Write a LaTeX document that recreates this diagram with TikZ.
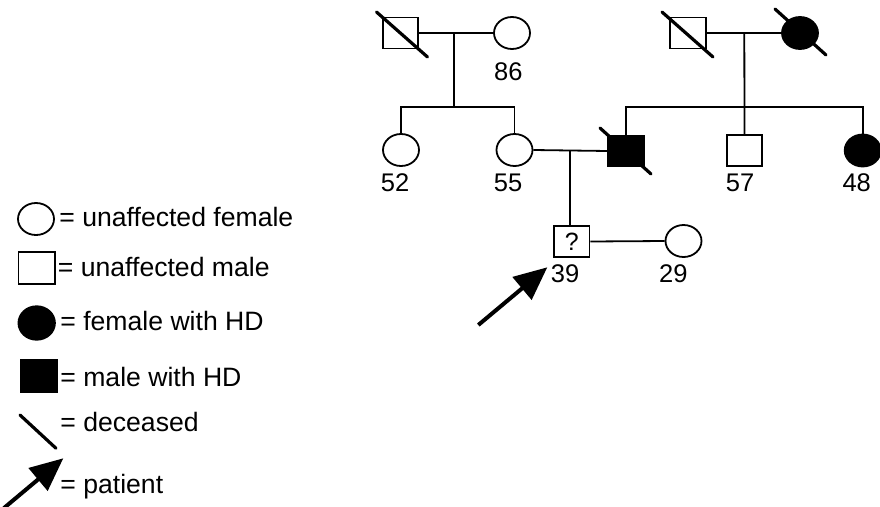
\documentclass[tikz,border=0pt]{standalone}
\usepackage{fontspec}
\setmainfont{Liberation Sans}
\usetikzlibrary{shapes.geometric,arrows.meta,calc}
\begin{document}
\begin{tikzpicture}[x=1pt,y=-1pt,
  line width=1.8pt,
  fem/.style={ellipse,draw,inner sep=0,minimum width=36pt,minimum height=32pt},
  mal/.style={rectangle,draw,inner sep=0,minimum width=35.5pt,minimum height=31pt},
  aff/.style={fill=black},
  lbl/.style={anchor=base,inner sep=0,font=\fontsize{25.5}{30}\selectfont},
  leg/.style={anchor=base west,inner sep=0,font=\fontsize{26.6}{31}\selectfont},
  dead/.style={line width=3.2pt,line cap=round},
  parr/.style={line width=4pt,-{Triangle[length=33pt,width=29pt]}}
]
\useasboundingbox (0,0) rectangle (880,506);

% pedigree members
\node[mal] (gf1) at (400.5,33) {};
\node[fem] (gm1) at (512,33) {};
\node[mal] (gf2) at (688,33) {};
\node[fem,aff] (gm2) at (800,33) {};
\node[fem] (a52) at (401,150) {};
\node[fem] (m55) at (514.5,150) {};
\node[mal,aff] (f) at (626,151) {};
\node[mal] (u57) at (744.5,150.5) {};
\node[fem,aff] (a48) at (862.7,150.5) {};
\node[mal,font=\fontsize{25}{30}\selectfont] (p) at (571.7,241.5) {?};
\node[fem] (w29) at (683.5,241) {};

% left family
\coordinate (j1) at (454.3,33);
\coordinate (s1) at (454.3,107);
\draw (gf1.east) -- (gm1.west);
\draw (j1) -- (s1);
\draw (a52.north) -- (a52.north |- s1) -- (m55.north |- s1) -- (m55.north);

% right family
\coordinate (j2) at (744.3,33);
\coordinate (s2) at (744.3,107);
\draw (gf2.east) -- (gm2.west);
\draw (j2) -- (u57.north);
\draw (f.north) -- (f.north |- s2) -- (a48.north |- s2) -- (a48.north);

% parents of patient
\draw (m55.east) -- (f.west);
\coordinate (j3) at (570,150.5);
\draw (j3) -- (j3 |- p.north);
\draw (p.east) -- (w29.west);

% deceased marks
\draw[dead] ($(gf1)+(-24,-21)$) -- ($(gf1)+(27,24)$);
\draw[dead] ($(gf2)+(-26,-21)$) -- ($(gf2)+(25,24)$);
\draw[dead] ($(gm2)+(-25,-24)$) -- ($(gm2)+(26,22)$);
\draw[dead] ($(f)+(-26,-23)$) -- ($(f)+(25,23)$);

% ages
\node[lbl] (l86) at (508.3,80.7) {86};
\node[lbl] (l52) at (395,191.7) {52};
\node[lbl] (l55) at (508,191.7) {55};
\node[lbl] (l57) at (740,191.7) {57};
\node[lbl] (l48) at (856.7,191.7) {48};
\node[lbl] (l39) at (565,282.3) {39};
\node[lbl] (l29) at (673.3,282.3) {29};

% patient arrow
\coordinate (ptail) at (478.3,325);
\coordinate (ptip) at (547.3,267.3);
\draw[parr] (ptail) -- (ptip);

% legend
\node[fem,minimum width=36pt,minimum height=32pt] (lf) at (36,219) {};
\node[mal,minimum width=36.5pt,minimum height=32.5pt] (lm) at (36.7,268) {};
\node[fem,aff,minimum width=36.5pt,minimum height=33.5pt] (lfa) at (36.7,323) {};
\node[mal,aff,minimum width=37pt,minimum height=32.5pt] (lma) at (39,376) {};
\coordinate (ld1) at (20,415);
\coordinate (ld2) at (56,448.3);
\draw[dead] (ld1) -- (ld2);
\coordinate (la1) at (4,508);
\coordinate (la2) at (63.3,458.3);
\draw[parr] (la1) -- (la2);

\node[leg] (t1) at (58.5,226.7) {= unaffected female};
\node[leg] (t2) at (57,276) {= unaffected male};
\node[leg] (t3) at (59.5,330) {= female with HD};
\node[leg] (t4) at (59.5,386.7) {= male with HD};
\node[leg] (t5) at (59.5,431.7) {= deceased};
\node[leg] (t6) at (59.5,493.3) {= patient};
\end{tikzpicture}
\end{document}
